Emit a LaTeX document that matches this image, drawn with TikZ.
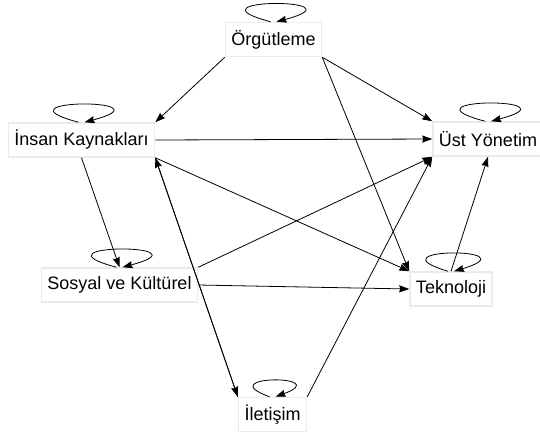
\documentclass[tikz,border=0pt]{standalone}
\usepackage{fontspec}
\setmainfont{Liberation Sans}
\usetikzlibrary{arrows.meta}
\newlength{\du}
\setlength{\du}{1pt}

\begin{document}
\begin{tikzpicture}[even odd rule]
\pgftransformxscale{1.000000}
\pgftransformyscale{-1.000000}
\definecolor{dialinecolor}{rgb}{0.000000, 0.000000, 0.000000}
\definecolor{diaboxcolor}{rgb}{0.920000, 0.920000, 0.920000}
\definecolor{diafillcolor}{rgb}{1.000000, 1.000000, 1.000000}
\tikzset{
  varbox/.style={draw=diaboxcolor, line width=1.5\du, fill=diafillcolor, inner xsep=6\du, inner ysep=0pt, minimum height=34\du, font=\fontsize{18}{20}\selectfont, text=dialinecolor},
  edge/.style={draw=dialinecolor, line width=0.8\du, -{Stealth[length=10pt,width=7pt,inset=1pt]}}
}
\useasboundingbox (0\du,0\du) rectangle (540\du,432\du);
% variables
\node[varbox] (org) at (273.500000\du,39.500000\du){Örgütleme};
\node[varbox] (ik) at (81.500000\du,140.000000\du){İnsan Kaynakları};
\node[varbox] (ust) at (488.000000\du,139.000000\du){Üst Yönetim};
\node[varbox] (sk) at (119.500000\du,285.000000\du){Sosyal ve Kültürel};
\node[varbox] (tek) at (451.000000\du,289.000000\du){Teknoloji};
\node[varbox] (ilet) at (272.500000\du,414.500000\du){İletişim};
% arcs
\draw[edge] (org.south west)--(ik.north east);
\draw[edge] (org.south east)--(ust.north west);
\draw[edge] (org.south east)--(tek.north west);
\draw[edge] (ik.east)--(ust.west);
\draw[edge] (ik.south east)--(tek.north west);
\draw[edge] (ik.south)--(sk.north);
\draw[edge] (ik.south east)--(ilet.north west);
\draw[edge] (ilet.north west)--(ik.south east);
\draw[edge] (sk.north east)--(ust.south west);
\draw[edge] (sk.east)--(tek.west);
\draw[edge] (ilet.north east)--(ust.south west);
\draw[edge] (tek.north)--(ust.south);
% self loops
\draw[edge] ([xshift=-3\du]org.north) .. controls +(-90\du,-24\du) and +(90\du,-24\du) .. ([xshift=3\du]org.north);
\draw[edge] ([xshift=-3\du]ik.north) .. controls +(-90\du,-24\du) and +(90\du,-24\du) .. ([xshift=3\du]ik.north);
\draw[edge] ([xshift=-3\du]ust.north) .. controls +(-90\du,-24\du) and +(90\du,-24\du) .. ([xshift=3\du]ust.north);
\draw[edge] ([xshift=-3\du]sk.north) .. controls +(-90\du,-24\du) and +(90\du,-24\du) .. ([xshift=3\du]sk.north);
\draw[edge] ([xshift=-3\du]tek.north) .. controls +(-80\du,-24\du) and +(80\du,-24\du) .. ([xshift=3\du]tek.north);
\draw[edge] ([xshift=-3\du]ilet.north) .. controls +(-60\du,-22\du) and +(60\du,-22\du) .. ([xshift=3\du]ilet.north);
\end{tikzpicture}
\end{document}
